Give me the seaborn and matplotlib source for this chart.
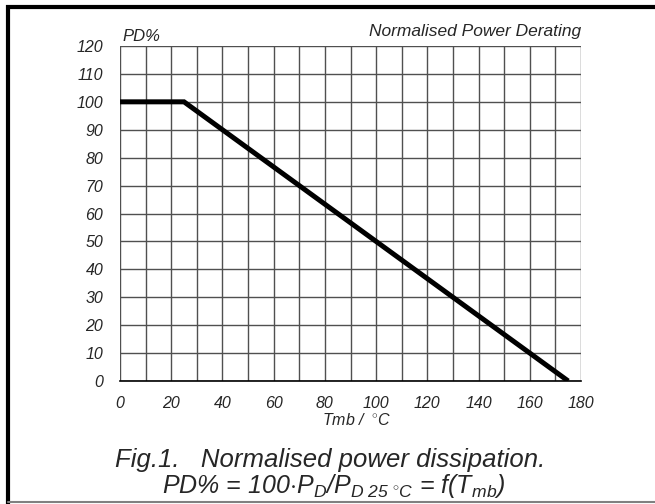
import matplotlib
matplotlib.use("Agg")
import matplotlib.pyplot as plt
import seaborn as sns
import pandas as pd
from matplotlib.lines import Line2D
from matplotlib.font_manager import FontProperties

# Derating curve: flat to 25 °C, then linear to zero at 175 °C
temp_c = [0, 25, 175]
power_pct = [100, 100, 0]

x_ticks = list(range(0, 181, 10))
x_labels = [str(v) if v % 20 == 0 else "" for v in x_ticks]
y_ticks = list(range(0, 121, 10))
y_labels = [str(v) for v in y_ticks]

sns.set_style("white")
plt.rcParams["font.family"] = ["Liberation Sans", "DejaVu Sans"]
plt.rcParams["font.style"] = "italic"
plt.rcParams["mathtext.fontset"] = "custom"
plt.rcParams["mathtext.rm"] = "Liberation Sans:italic"
plt.rcParams["mathtext.it"] = "Liberation Sans:italic"
plt.rcParams["mathtext.sf"] = "Liberation Sans:italic"

tick_font = FontProperties(family="Liberation Sans", style="italic", size=11.5)

fig = plt.figure(figsize=(6.55, 5.04), dpi=100)
ax = fig.add_axes([120 / 655, 1 - 381 / 504, 461 / 655, 335 / 504])

df = pd.DataFrame({"T": temp_c, "PD": power_pct})
sns.lineplot(data=df, x="T", y="PD", ax=ax, color="black", linewidth=3.6,
             solid_capstyle="butt", solid_joinstyle="miter", zorder=5)

ax.set_xlim(0, 180)
ax.set_ylim(0, 120)
ax.set_xticks(x_ticks)
ax.set_xticklabels(x_labels, fontproperties=tick_font)
ax.set_yticks(y_ticks)
ax.set_yticklabels(y_labels, fontproperties=tick_font)
ax.tick_params(axis="both", direction="out", length=5, width=1, color="black")
ax.tick_params(axis="y", pad=7)
ax.tick_params(axis="x", pad=6)
ax.grid(True, color="#505050", linewidth=1)
ax.set_axisbelow(True)
for side in ["top", "right", "left"]:
    ax.spines[side].set_visible(False)
ax.spines["bottom"].set_color("black")
ax.spines["bottom"].set_linewidth(1.2)
ax.set_xlabel("")
ax.set_ylabel("")

fig.text(322 / 655, 1 - 425 / 504, r"Tmb /  $^{\circ}$C", fontsize=11.5,
         style="italic", ha="left", va="baseline")
fig.text(122 / 655, 1 - 41 / 504, "PD%", fontsize=12, style="italic",
         ha="left", va="baseline")
fig.text(581 / 655, 1 - 36 / 504, "Normalised Power Derating", fontsize=12.5,
         style="italic", ha="right", va="baseline")

fig.text(330 / 655, 1 - 467 / 504, "Fig.1.   Normalised power dissipation.",
         fontsize=18.5, style="italic", ha="center", va="baseline")
fig.text(334 / 655, 1 - 493 / 504,
         r"PD% = 100$\cdot$P$_D$/P$_{D\ 25\ ^{\circ}C}$ = f(T$_{mb}$)",
         fontsize=18, style="italic", ha="center", va="baseline")

# outer frame
fig.add_artist(Line2D([6 / 655, 1.0], [1 - 7 / 504, 1 - 7 / 504], color="black",
                      linewidth=3, transform=fig.transFigure, solid_capstyle="butt"))
fig.add_artist(Line2D([8 / 655, 8 / 655], [1 - 5 / 504, 0.0], color="black",
                      linewidth=3, transform=fig.transFigure, solid_capstyle="butt"))
fig.add_artist(Line2D([8 / 655, 1.0], [1 - 502 / 504, 1 - 502 / 504], color="#808080",
                      linewidth=1.5, transform=fig.transFigure))

fig.savefig("out.png", dpi=100)
